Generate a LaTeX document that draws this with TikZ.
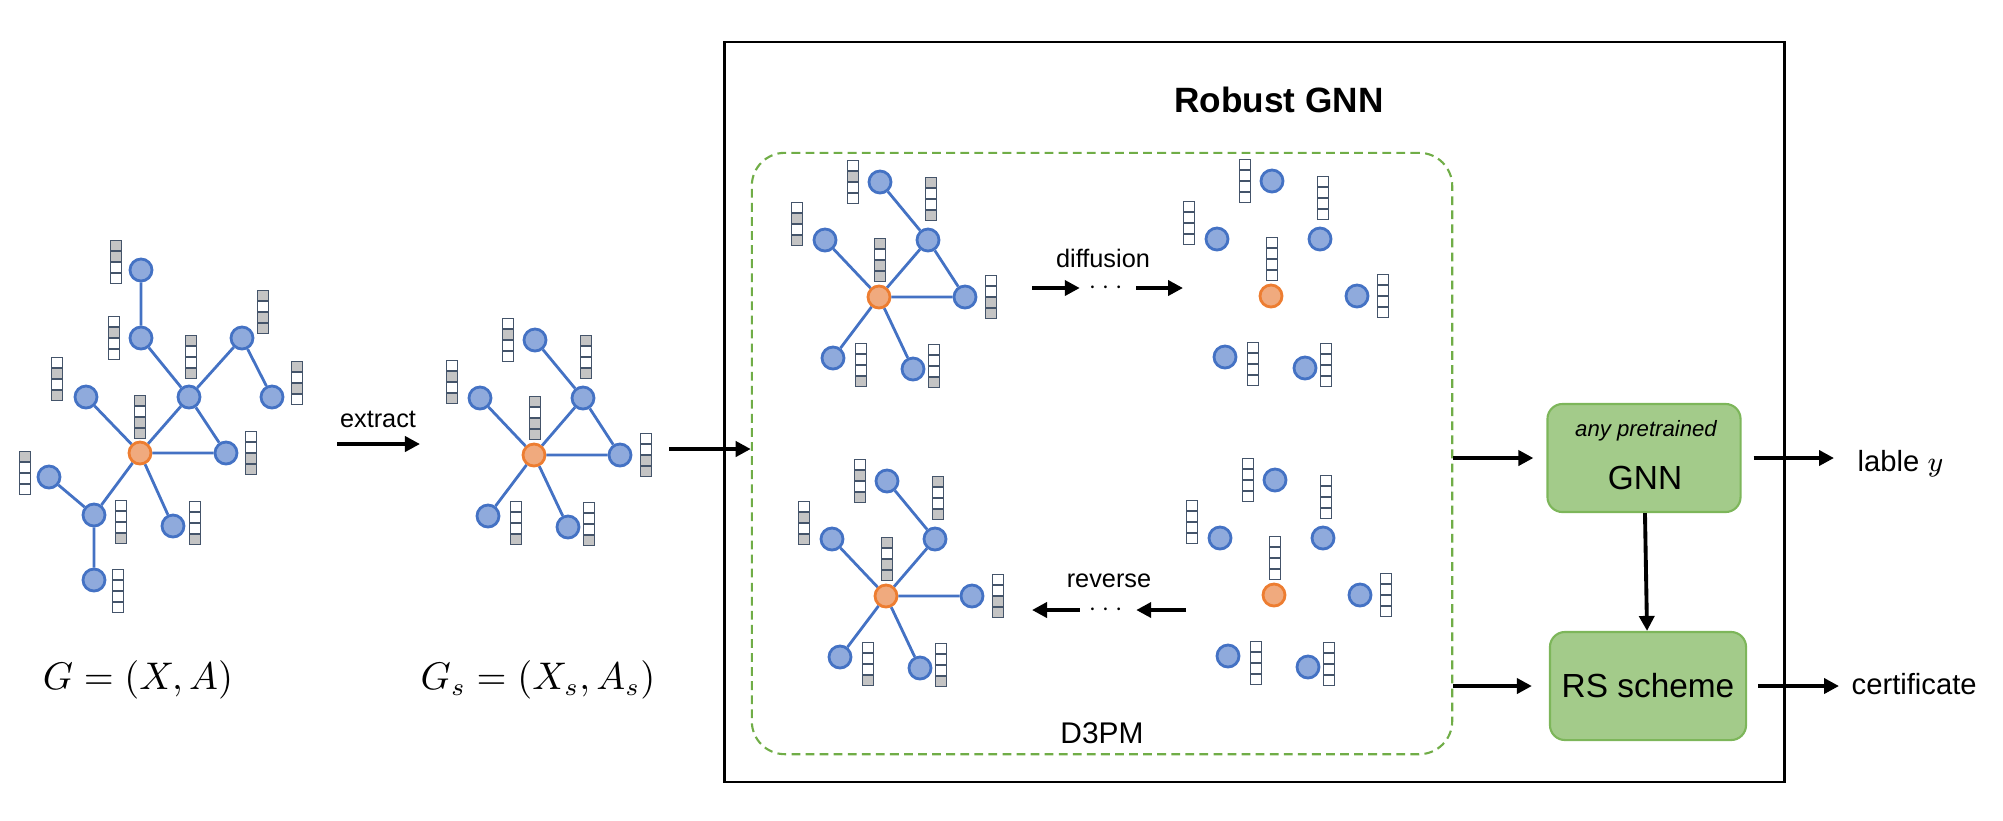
\documentclass[tikz,border=0pt]{standalone}
\usepackage{fontspec}
\setmainfont{Liberation Sans}
\usepackage{amsmath}
\usetikzlibrary{arrows.meta,positioning}

\definecolor{nodeblue}{HTML}{8FAADC}
\definecolor{edgeblue}{HTML}{4472C4}
\definecolor{hubfill}{HTML}{F0AA7E}
\definecolor{hubline}{HTML}{ED7D31}
\definecolor{cellline}{HTML}{44546A}
\definecolor{cellg}{HTML}{C4C4C4}
\colorlet{cellw}{white}
\definecolor{dashgreen}{HTML}{70AD47}
\definecolor{boxgreen}{HTML}{A3CB8A}
\definecolor{boxline}{HTML}{7DB65A}

\tikzset{
  gnode/.style={circle, draw=edgeblue, fill=nodeblue, line width=0.8pt, minimum size=0.22cm, inner sep=0pt},
  hubnode/.style={gnode, draw=hubline, fill=hubfill},
  gedge/.style={draw=edgeblue, line width=0.8pt},
  cell/.style={draw=cellline, line width=0.55pt},
  arr/.style={-{Triangle[length=0.15cm,width=0.15cm]}, line width=1.1pt},
  greenbox/.style={draw=boxline, fill=boxgreen, rounded corners=0.15cm, line width=0.6pt, minimum width=1.93cm, minimum height=1.08cm},
  lbl/.style={font=\fontsize{7.2}{8.6}\selectfont, inner sep=0pt},
}

% feature vector: centre x, centre y, cells from the top
\newcommand{\fvec}[3]{%
  \foreach \fc [count=\i from 0] in {#3}
    \draw[cell, fill=cell\fc] ({#1-5.5},{#2-21.5+10.75*\i}) rectangle ++(11,10.75);
}
% the seven nodes of a small graph, hub at the origin
\newcommand{\smallnodes}{%
  \node[hubnode] (v0) at (0,0) {};
  \node[gnode] (v1) at (1,-115) {};
  \node[gnode] (v2) at (-54,-57) {};
  \node[gnode] (v3) at (49,-57) {};
  \node[gnode] (v4) at (86,0) {};
  \node[gnode] (v5) at (-46,61) {};
  \node[gnode] (v6) at (34,72) {};
}
\newcommand{\smallbars}[7]{%
  \fvec{1}{-37}{#1} \fvec{-26}{-115}{#2} \fvec{-82}{-73}{#3} \fvec{52}{-98}{#4}
  \fvec{112}{0}{#5} \fvec{-18}{68}{#6} \fvec{55}{69}{#7}
}

\begin{document}
\begin{tikzpicture}[x=0.01cm, y=-0.01cm]
\useasboundingbox (0,0) rectangle (2003,820);

% input graph
\node[hubnode] (a0) at (140,453) {};
\node[gnode] (a1) at (141,270) {};
\node[gnode] (a2) at (141,338) {};
\node[gnode] (a3) at (189,397) {};
\node[gnode] (a4) at (242,338) {};
\node[gnode] (a5) at (272,397) {};
\node[gnode] (a6) at (86,397) {};
\node[gnode] (a7) at (226,453) {};
\node[gnode] (a8) at (49,477) {};
\node[gnode] (a9) at (94,515) {};
\node[gnode] (a10) at (94,580) {};
\node[gnode] (a11) at (173,526) {};
\draw[gedge] (a1) -- (a2) (a2) -- (a3) (a3) -- (a4) (a4) -- (a5) (a3) -- (a0) (a3) -- (a7)
  (a0) -- (a7) (a0) -- (a6) (a0) -- (a9) (a0) -- (a11) (a9) -- (a8) (a9) -- (a10);
\fvec{116}{262}{g,g,w,w}
\fvec{114}{338}{w,g,w,w}
\fvec{191}{357}{g,w,w,g}
\fvec{263}{312}{g,w,g,g}
\fvec{297}{383}{g,w,g,w}
\fvec{57}{379}{w,g,w,g}
\fvec{140}{417}{g,w,g,g}
\fvec{251}{453}{w,w,g,g}
\fvec{25}{473}{g,w,w,w}
\fvec{121}{522}{w,w,w,g}
\fvec{195}{523}{w,w,w,g}
\fvec{118}{591}{w,w,w,w}
\node (gfull) at (138,680) {\fontsize{10.5}{12}\selectfont $G=(X,A)$};

\coordinate (ex0) at (337,444);
\coordinate (ex1) at (420,444);
\draw[arr] (ex0) -- (ex1);
\node[lbl] (extract) at (378,419) {extract};

% subgraph
\begin{scope}[shift={(534,455)}, name prefix=s-]
  \smallnodes
  \draw[gedge] (v1) -- (v3) (v3) -- (v0) (v3) -- (v4) (v0) -- (v2) (v0) -- (v4) (v0) -- (v5) (v0) -- (v6);
  \smallbars{g,w,g,g}{w,g,w,w}{w,g,w,g}{g,w,w,g}{w,w,g,g}{w,w,w,g}{w,w,w,g}
\end{scope}
\node (gsub) at (538,680) {\fontsize{10.5}{12}\selectfont $G_s=(X_s,A_s)$};

% robust gnn
\node[draw, line width=0.7pt, minimum width=10.59cm, minimum height=7.4cm] (robust) at (1254.5,412) {};
\node[font=\bfseries\fontsize{10}{12}\selectfont] (title) at (1279,100) {Robust GNN};
\node[draw=dashgreen, dash pattern=on 2.5pt off 1.5pt, line width=0.6pt, rounded corners=0.33cm,
  minimum width=7cm, minimum height=6.01cm] (d3pm) at (1102,453.5) {};
\node[font=\fontsize{8.5}{10}\selectfont] (d3pmlbl) at (1102,733) {D3PM};

\coordinate (gs) at (669,449);
\draw[arr] (gs) -- (gs -| d3pm.west);

\begin{scope}[shift={(879,297)}, name prefix=c-]
  \smallnodes
  \draw[gedge] (v1) -- (v3) (v3) -- (v0) (v3) -- (v4) (v0) -- (v2) (v0) -- (v4) (v0) -- (v5) (v0) -- (v6);
  \smallbars{g,w,g,g}{w,g,w,w}{w,g,w,g}{g,w,w,g}{w,w,g,g}{w,w,w,g}{w,w,w,g}
\end{scope}
\begin{scope}[shift={(1271,296)}, name prefix=n-]
  \smallnodes
  \smallbars{w,w,w,w}{w,w,w,w}{w,w,w,w}{w,w,w,w}{w,w,w,w}{w,w,w,w}{w,w,w,w}
\end{scope}
\begin{scope}[shift={(886,596)}, name prefix=r-]
  \smallnodes
  \draw[gedge] (v1) -- (v3) (v3) -- (v0) (v0) -- (v2) (v0) -- (v4) (v0) -- (v5) (v0) -- (v6);
  \smallbars{g,w,g,g}{w,g,w,g}{w,g,w,g}{g,w,w,g}{w,w,g,g}{w,w,w,g}{w,w,w,g}
\end{scope}
\begin{scope}[shift={(1274,595)}, name prefix=m-]
  \smallnodes
  \smallbars{w,w,w,w}{w,w,w,w}{w,w,w,w}{w,w,w,w}{w,w,w,w}{w,w,w,w}{w,w,w,w}
\end{scope}

\node[lbl, minimum width=0.55cm] (fdots) at (1108,288) {$\cdots$};
\coordinate (f0) at (1032,288);
\coordinate (f1) at (1183,288);
\draw[arr] (f0) -- (fdots);
\draw[arr] (fdots) -- (f1);
\node[lbl] (diff) at (1103,258) {diffusion};

\node[lbl, minimum width=0.55cm] (rdots) at (1108,610) {$\cdots$};
\coordinate (r0) at (1186,610);
\coordinate (r1) at (1032,610);
\draw[arr] (r0) -- (rdots);
\draw[arr] (rdots) -- (r1);
\node[lbl] (rev) at (1109,581) {reverse};

% classifier and certificate
\node[greenbox] (gnn) at (1644,458) {};
\node[font=\itshape\fontsize{6.3}{7.5}\selectfont, anchor=base] (anypre) at (1646,436) {any pretrained};
\node[font=\fontsize{9.5}{11}\selectfont, anchor=base] (gnnlbl) at (1645,489) {GNN};
\node[greenbox, font=\fontsize{9.5}{11}\selectfont] (rs) at (1648,686) {RS scheme};

\node[font=\fontsize{8.3}{10}\selectfont, anchor=base west, inner sep=0pt] (label) at (1857,471) {lable $y$};
\node[font=\fontsize{8.3}{10}\selectfont, anchor=base west, inner sep=0pt] (cert) at (1851,694) {certificate};

\draw[arr, shorten >=0.13cm] (d3pm.east |- gnn.west) -- (gnn.west);
\draw[arr, shorten >=0.17cm] (d3pm.east |- rs.west) -- (rs.west);
\draw[arr] (gnn) -- (rs);
\draw[arr, shorten <=0.12cm, shorten >=0.23cm] (gnn.east) -- (gnn.east -| label.west);
\draw[arr, shorten <=0.11cm, shorten >=0.12cm] (rs.east) -- (rs.east -| cert.west);
\end{tikzpicture}
\end{document}
